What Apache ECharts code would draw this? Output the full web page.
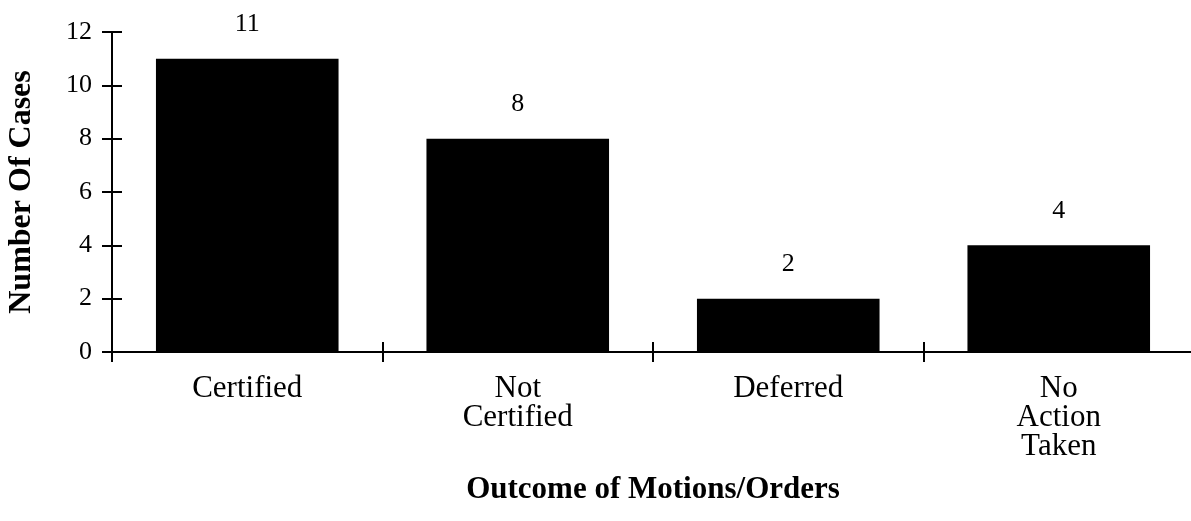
<!DOCTYPE html>
<html>
<head>
<meta charset="utf-8">
<script src="https://cdn.jsdelivr.net/npm/echarts@6/dist/echarts.min.js"></script>
<style>html,body{margin:0;padding:0;background:#fff;}#c{width:1191px;height:521px;}</style>
</head>
<body>
<div id="c"></div>
<script>
var categories = ['Certified', 'Not\nCertified', 'Deferred', 'No\nAction\nTaken'];
var values = [11, 8, 2, 4];
var yTicks = [0, 2, 4, 6, 8, 10, 12];

var serif = '"Liberation Serif", "Times New Roman", serif';
var chart = echarts.init(document.getElementById('c'));
var yMin = yTicks[0], yMax = yTicks[yTicks.length - 1], yStep = yTicks[1] - yTicks[0];
var tickStyle = { color: '#000', width: 2 };
chart.setOption({
  animation: false,
  backgroundColor: '#fff',
  grid: [
    { left: 112, width: 1082, top: 32, height: 320, containLabel: false, outerBoundsMode: 'none' },
    { left: 0, width: 112, top: 32, height: 320, containLabel: false, outerBoundsMode: 'none' }
  ],
  xAxis: [{
    type: 'category',
    gridIndex: 0,
    data: categories,
    name: 'Outcome of Motions/Orders',
    nameLocation: 'middle',
    nameGap: 122,
    nameTextStyle: { fontFamily: serif, fontSize: 31, fontWeight: 'bold', color: '#000' },
    axisLine: { lineStyle: tickStyle },
    axisTick: { show: true, length: 10, lineStyle: tickStyle },
    axisLabel: { fontFamily: serif, fontSize: 31, color: '#000', lineHeight: 29, margin: 22 }
  }, {
    type: 'category',
    gridIndex: 0,
    position: 'top',
    data: categories,
    axisLine: { show: true, onZero: true, lineStyle: tickStyle },
    axisTick: { show: true, length: 10, lineStyle: tickStyle },
    axisLabel: { show: false }
  }, {
    type: 'category',
    gridIndex: 1,
    data: categories,
    show: false
  }],
  yAxis: [{
    type: 'value',
    gridIndex: 0,
    min: yMin, max: yMax, interval: yStep,
    name: 'Number Of Cases',
    nameLocation: 'middle',
    nameGap: 74,
    nameTextStyle: { fontFamily: serif, fontSize: 32, fontWeight: 'bold', color: '#000' },
    axisLine: { show: true, lineStyle: tickStyle },
    axisTick: { show: true, length: 10, lineStyle: tickStyle },
    axisLabel: { fontFamily: serif, fontSize: 26, color: '#000', margin: 20 },
    splitLine: { show: false }
  }, {
    type: 'value',
    gridIndex: 0,
    min: yMin, max: yMax, interval: yStep,
    show: false
  }, {
    type: 'value',
    gridIndex: 1,
    position: 'right',
    min: yMin, max: yMax, interval: yStep,
    axisLine: { show: true, lineStyle: tickStyle },
    axisTick: { show: true, length: 10, lineStyle: tickStyle },
    axisLabel: { show: false },
    splitLine: { show: false }
  }],
  series: [{
    type: 'bar',
    data: values,
    xAxisIndex: 0,
    yAxisIndex: 0,
    barWidth: '67.5%',
    itemStyle: { color: '#000' },
    label: { show: true, position: 'top', distance: 21, fontFamily: serif, fontSize: 26, color: '#000' },
    z: 1
  }, {
    type: 'line',
    data: values,
    xAxisIndex: 1,
    yAxisIndex: 0,
    symbol: 'none',
    silent: true,
    lineStyle: { opacity: 0 },
    z: 0
  }, {
    type: 'line',
    data: values,
    xAxisIndex: 2,
    yAxisIndex: 2,
    symbol: 'none',
    silent: true,
    lineStyle: { opacity: 0 },
    z: 0
  }]
});
</script>
</body>
</html>
